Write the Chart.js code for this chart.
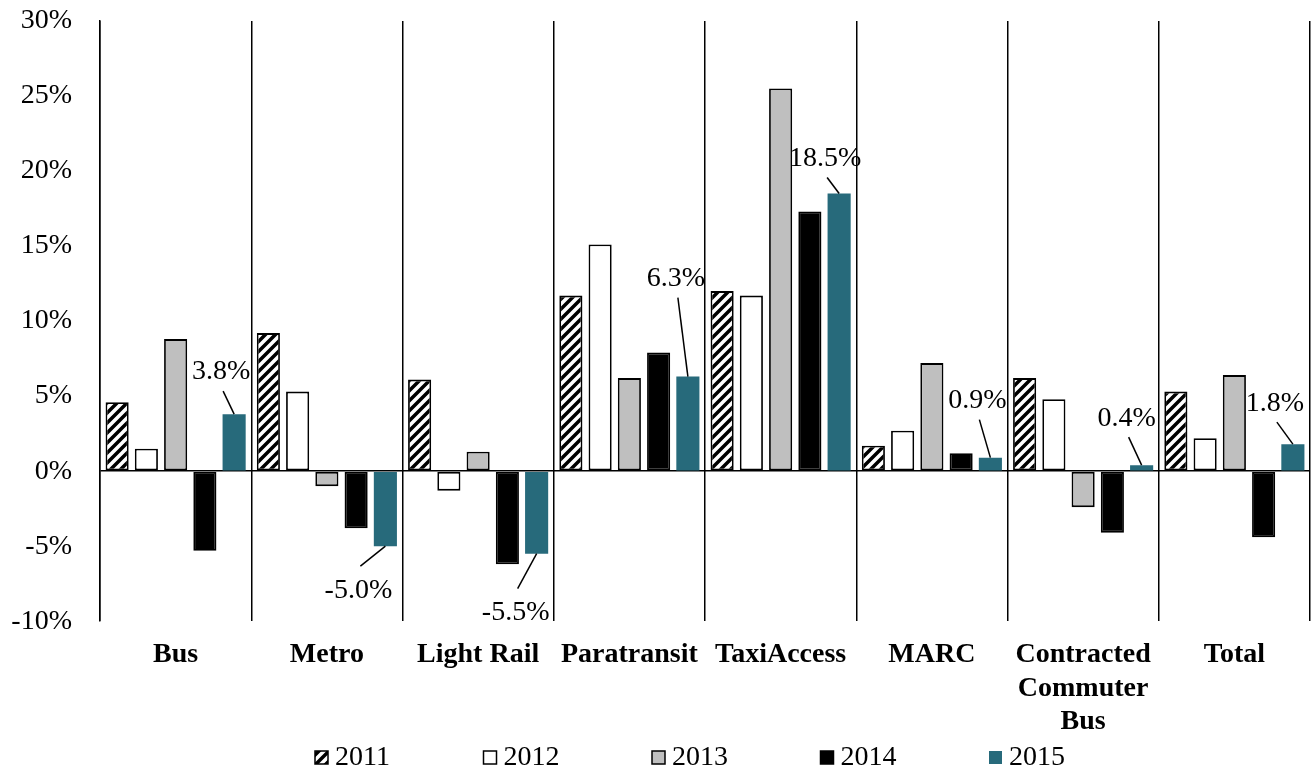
<!DOCTYPE html>
<html>
<head>
<meta charset="utf-8">
<script src="https://cdn.jsdelivr.net/npm/chart.js@4/dist/chart.umd.min.js"></script>
<style>
  body { margin: 0; background: #fff; }
</style>
</head>
<body>
<canvas id="ridership" width="1313" height="772"></canvas>
<script>
// Year-over-year change by mode (%)
const categories = ['Bus', 'Metro', 'Light Rail', 'Paratransit', 'TaxiAccess', 'MARC', ['Contracted', 'Commuter', 'Bus'], 'Total'];
const years = ['2011', '2012', '2013', '2014', '2015'];
const y2011 = [4.6, 9.2, 6.1, 11.7, 12.0, 1.7, 6.2, 5.3];
const y2012 = [1.5, 5.3, -1.3, 15.1, 11.7, 2.7, 4.8, 2.2];
const y2013 = [8.8, -1.0, 1.3, 6.2, 25.5, 7.2, -2.4, 6.4];
const y2014 = [-5.3, -3.8, -6.2, 7.9, 17.3, 1.2, -4.1, -4.4];
const y2015 = [3.8, -5.0, -5.5, 6.3, 18.5, 0.9, 0.4, 1.8];
const yTicks = [-10, -5, 0, 5, 10, 15, 20, 25, 30];

// where each 2015 callout sits, relative to the bar end
const calloutOffsets = [[-13, -42], [-27, 44], [-21, 59], [-12, -98], [-14, -35], [-13, -57], [-15, -47], [-18, -41]];

const FONT = "'Liberation Serif', 'Times New Roman', serif";

function hatch() {
    const c = document.createElement('canvas');
    c.width = 10; c.height = 10;
    const g = c.getContext('2d');
    g.fillStyle = '#fff';
    g.fillRect(0, 0, 10, 10);
    g.strokeStyle = '#000';
    g.lineWidth = 3.5;
    g.beginPath();
    g.moveTo(-2, 12); g.lineTo(12, -2);
    g.moveTo(-2, 2); g.lineTo(2, -2);
    g.moveTo(8, 12); g.lineTo(12, 8);
    g.stroke();
    return g.createPattern(c, 'repeat');
}

const callouts = {
    id: 'callouts',
    afterDatasetsDraw(chart) {
        const meta = chart.getDatasetMeta(4);
        const ctx = chart.ctx;
        ctx.save();
        ctx.font = '28px ' + FONT;
        ctx.fillStyle = '#000';
        ctx.strokeStyle = '#000';
        ctx.lineWidth = 1.5;
        ctx.textAlign = 'center';
        ctx.textBaseline = 'middle';
        meta.data.forEach((bar, i) => {
            const [dx, dy] = calloutOffsets[i];
            const lx = bar.x + dx, ly = bar.y + dy;
            ctx.beginPath();
            ctx.moveTo(lx + 2, ly + (dy < 0 ? 19 : -24));
            ctx.lineTo(bar.x, bar.y);
            ctx.stroke();
            ctx.fillText(y2015[i].toFixed(1) + '%', lx, ly);
        });
        ctx.restore();
    }
};

// legend row along the bottom, Excel style (small box, text right next to it)
const bottomLegend = {
    id: 'bottomLegend',
    afterDraw(chart) {
        const ctx = chart.ctx;
        const y = chart.height - 14;
        ctx.save();
        ctx.font = '28px ' + FONT;
        ctx.textBaseline = 'middle';
        chart.data.datasets.forEach((ds, i) => {
            const x = 315 + i * 168.5;
            ctx.fillStyle = ds.backgroundColor;
            ctx.fillRect(x, y - 7, 13, 13);
            if (ds.borderWidth) {
                ctx.strokeStyle = '#000';
                ctx.lineWidth = 1.5;
                ctx.strokeRect(x, y - 7, 13, 13);
            }
            ctx.fillStyle = '#000';
            ctx.fillText(ds.label, x + 20, y);
        });
        ctx.restore();
    }
};

const bar = (label, data, fill, border) => ({
    label, data,
    backgroundColor: fill,
    borderColor: '#000',
    borderWidth: border,
    borderSkipped: false,
    categoryPercentage: 0.967,
    barPercentage: 0.79
});

new Chart(document.getElementById('ridership'), {
    type: 'bar',
    data: {
        labels: categories,
        datasets: [
            bar(years[0], y2011, hatch(), 1.8),
            bar(years[1], y2012, '#ffffff', 1.8),
            bar(years[2], y2013, '#bfbfbf', 1.8),
            bar(years[3], y2014, '#000000', 1.8),
            bar(years[4], y2015, '#276a7b', 0)
        ]
    },
    options: {
        responsive: false,
        animation: false,
        layout: { padding: { left: 11, right: 3, top: 4, bottom: 16 } },
        plugins: {
            tooltip: { enabled: false },
            legend: { display: false }
        },
        scales: {
            x: {
                grid: { color: '#000', lineWidth: 1.5, drawTicks: false, offset: true },
                border: { display: false },
                ticks: {
                    color: '#000', padding: 17, maxRotation: 0, minRotation: 0, autoSkip: false,
                    font: { family: FONT, size: 28, weight: 'bold' }
                }
            },
            y: {
                min: -10,
                max: 30,
                afterBuildTicks: axis => { axis.ticks = yTicks.map(v => ({ value: v })); },
                afterFit: s => { s.width = 89; s.paddingTop = 21; },
                grid: {
                    drawTicks: false,
                    lineWidth: 1.5,
                    color: c => (c.tick && c.tick.value === 0) ? '#000' : 'rgba(0,0,0,0)'
                },
                border: { display: true, color: '#000', width: 1.5 },
                ticks: {
                    color: '#000',
                    padding: 28,
                    font: { family: FONT, size: 28 },
                    callback: v => v + '%'
                }
            }
        }
    },
    plugins: [callouts, bottomLegend]
});
</script>
</body>
</html>
